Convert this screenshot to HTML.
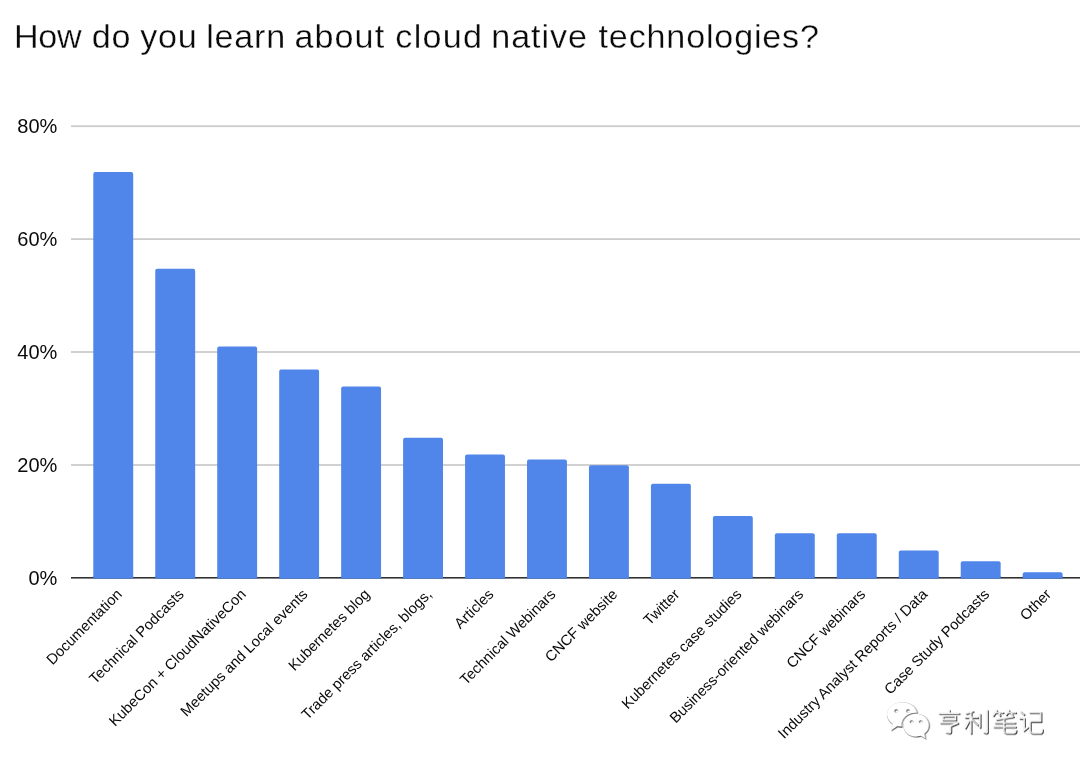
<!DOCTYPE html>
<html><head><meta charset="utf-8"><title>chart</title>
<style>
html,body{margin:0;padding:0;background:#fff;}
body{width:1080px;height:771px;overflow:hidden;font-family:"Liberation Sans",sans-serif;}
svg{display:block}
text{font-family:"Liberation Sans",sans-serif;fill:#0a0a0a}
</style></head><body>
<svg width="1080" height="771" viewBox="0 0 1080 771">
<rect width="1080" height="771" fill="#fff"/>
<g style="opacity:0.999">
<text class="tt" transform="translate(13.97 47.6) scale(1.05 1)" font-size="32.5" letter-spacing="-0.288" fill="#141414" stroke="#fff" stroke-width="0.3">How</text>
<text class="tt" transform="translate(91.73 47.6) scale(1.05 1)" font-size="32.5" letter-spacing="0.706" fill="#141414" stroke="#fff" stroke-width="0.3">do</text>
<text class="tt" transform="translate(140.30 47.6) scale(1.05 1)" font-size="32.5" letter-spacing="0.637" fill="#141414" stroke="#fff" stroke-width="0.3">you</text>
<text class="tt" transform="translate(206.25 47.6) scale(1.05 1)" font-size="32.5" letter-spacing="0.734" fill="#141414" stroke="#fff" stroke-width="0.3">learn</text>
<text class="tt" transform="translate(294.44 47.6) scale(1.05 1)" font-size="32.5" letter-spacing="1.023" fill="#141414" stroke="#fff" stroke-width="0.3">about</text>
<text class="tt" transform="translate(395.33 47.6) scale(1.05 1)" font-size="32.5" letter-spacing="1.191" fill="#141414" stroke="#fff" stroke-width="0.3">cloud</text>
<text class="tt" transform="translate(491.25 47.6) scale(1.05 1)" font-size="32.5" letter-spacing="0.899" fill="#141414" stroke="#fff" stroke-width="0.3">native</text>
<text class="tt" transform="translate(598.56 47.6) scale(1.05 1)" font-size="32.5" letter-spacing="0.784" fill="#141414" stroke="#fff" stroke-width="0.3">technologies?</text>
<rect x="71" y="125.3" width="1009" height="1.8" fill="#cccccc"/>
<rect x="71" y="238.2" width="1009" height="1.8" fill="#cccccc"/>
<rect x="71" y="351.1" width="1009" height="1.8" fill="#cccccc"/>
<rect x="71" y="464.1" width="1009" height="1.8" fill="#cccccc"/>
<text class="yl" x="57.4" y="133.4" font-size="20" text-anchor="end">80%</text>
<text class="yl" x="57.4" y="246.3" font-size="20" text-anchor="end">60%</text>
<text class="yl" x="57.4" y="359.2" font-size="20" text-anchor="end">40%</text>
<text class="yl" x="57.4" y="472.2" font-size="20" text-anchor="end">20%</text>
<text class="yl" x="57.4" y="585.2" font-size="20" text-anchor="end">0%</text>
<path d="M93.30 578.6 V174.00 Q93.30 172.00 95.30 172.00 H131.20 Q133.20 172.00 133.20 174.00 V578.6 Z" fill="#5085ea"/>
<path d="M155.26 578.6 V270.70 Q155.26 268.70 157.26 268.70 H193.16 Q195.16 268.70 195.16 270.70 V578.6 Z" fill="#5085ea"/>
<path d="M217.22 578.6 V348.40 Q217.22 346.40 219.22 346.40 H255.12 Q257.12 346.40 257.12 348.40 V578.6 Z" fill="#5085ea"/>
<path d="M279.18 578.6 V371.60 Q279.18 369.60 281.18 369.60 H317.08 Q319.08 369.60 319.08 371.60 V578.6 Z" fill="#5085ea"/>
<path d="M341.14 578.6 V388.40 Q341.14 386.40 343.14 386.40 H379.04 Q381.04 386.40 381.04 388.40 V578.6 Z" fill="#5085ea"/>
<path d="M403.10 578.6 V439.80 Q403.10 437.80 405.10 437.80 H441.00 Q443.00 437.80 443.00 439.80 V578.6 Z" fill="#5085ea"/>
<path d="M465.06 578.6 V456.50 Q465.06 454.50 467.06 454.50 H502.96 Q504.96 454.50 504.96 456.50 V578.6 Z" fill="#5085ea"/>
<path d="M527.02 578.6 V461.40 Q527.02 459.40 529.02 459.40 H564.92 Q566.92 459.40 566.92 461.40 V578.6 Z" fill="#5085ea"/>
<path d="M588.98 578.6 V467.30 Q588.98 465.30 590.98 465.30 H626.88 Q628.88 465.30 628.88 467.30 V578.6 Z" fill="#5085ea"/>
<path d="M650.94 578.6 V485.70 Q650.94 483.70 652.94 483.70 H688.84 Q690.84 483.70 690.84 485.70 V578.6 Z" fill="#5085ea"/>
<path d="M712.90 578.6 V518.10 Q712.90 516.10 714.90 516.10 H750.80 Q752.80 516.10 752.80 518.10 V578.6 Z" fill="#5085ea"/>
<path d="M774.86 578.6 V535.30 Q774.86 533.30 776.86 533.30 H812.76 Q814.76 533.30 814.76 535.30 V578.6 Z" fill="#5085ea"/>
<path d="M836.82 578.6 V535.30 Q836.82 533.30 838.82 533.30 H874.72 Q876.72 533.30 876.72 535.30 V578.6 Z" fill="#5085ea"/>
<path d="M898.78 578.6 V552.40 Q898.78 550.40 900.78 550.40 H936.68 Q938.68 550.40 938.68 552.40 V578.6 Z" fill="#5085ea"/>
<path d="M960.74 578.6 V563.30 Q960.74 561.30 962.74 561.30 H998.64 Q1000.64 561.30 1000.64 563.30 V578.6 Z" fill="#5085ea"/>
<path d="M1022.70 578.6 V574.20 Q1022.70 572.20 1024.70 572.20 H1060.60 Q1062.60 572.20 1062.60 574.20 V578.6 Z" fill="#5085ea"/>
<rect x="71" y="577" width="1009" height="1.6" fill="#333"/>
<rect x="93.30" y="576" width="39.9" height="2.6" fill="#5085ea"/>
<rect x="155.26" y="576" width="39.9" height="2.6" fill="#5085ea"/>
<rect x="217.22" y="576" width="39.9" height="2.6" fill="#5085ea"/>
<rect x="279.18" y="576" width="39.9" height="2.6" fill="#5085ea"/>
<rect x="341.14" y="576" width="39.9" height="2.6" fill="#5085ea"/>
<rect x="403.10" y="576" width="39.9" height="2.6" fill="#5085ea"/>
<rect x="465.06" y="576" width="39.9" height="2.6" fill="#5085ea"/>
<rect x="527.02" y="576" width="39.9" height="2.6" fill="#5085ea"/>
<rect x="588.98" y="576" width="39.9" height="2.6" fill="#5085ea"/>
<rect x="650.94" y="576" width="39.9" height="2.6" fill="#5085ea"/>
<rect x="712.90" y="576" width="39.9" height="2.6" fill="#5085ea"/>
<rect x="774.86" y="576" width="39.9" height="2.6" fill="#5085ea"/>
<rect x="836.82" y="576" width="39.9" height="2.6" fill="#5085ea"/>
<rect x="898.78" y="576" width="39.9" height="2.6" fill="#5085ea"/>
<rect x="960.74" y="576" width="39.9" height="2.6" fill="#5085ea"/>
<rect x="1022.70" y="576" width="39.9" height="2.6" fill="#5085ea"/>
<text class="xl" font-size="14.8" fill="#000" text-anchor="end" transform="translate(122.8 595.2) rotate(-45)">Documentation</text>
<text class="xl" font-size="14.8" fill="#000" text-anchor="end" transform="translate(184.7 595.2) rotate(-45)">Technical Podcasts</text>
<text class="xl" font-size="14.8" fill="#000" text-anchor="end" transform="translate(246.7 595.2) rotate(-45)">KubeCon + CloudNativeCon</text>
<text class="xl" font-size="14.8" fill="#000" text-anchor="end" transform="translate(308.6 595.2) rotate(-45)">Meetups and Local events</text>
<text class="xl" font-size="14.8" fill="#000" text-anchor="end" transform="translate(370.6 595.2) rotate(-45)">Kubernetes blog</text>
<text class="xl" font-size="14.8" fill="#000" text-anchor="end" transform="translate(432.6 595.2) rotate(-45)">Trade press articles, blogs,</text>
<text class="xl" font-size="14.8" fill="#000" text-anchor="end" transform="translate(494.5 595.2) rotate(-45)">Articles</text>
<text class="xl" font-size="14.8" fill="#000" text-anchor="end" transform="translate(556.5 595.2) rotate(-45)">Technical Webinars</text>
<text class="xl" font-size="14.8" fill="#000" text-anchor="end" transform="translate(618.4 595.2) rotate(-45)">CNCF website</text>
<text class="xl" font-size="14.8" fill="#000" text-anchor="end" transform="translate(680.4 595.2) rotate(-45)">Twitter</text>
<text class="xl" font-size="14.8" fill="#000" text-anchor="end" transform="translate(742.4 595.2) rotate(-45)">Kubernetes case studies</text>
<text class="xl" font-size="14.8" fill="#000" text-anchor="end" transform="translate(804.3 595.2) rotate(-45)">Business-oriented webinars</text>
<text class="xl" font-size="14.8" fill="#000" text-anchor="end" transform="translate(866.3 595.2) rotate(-45)">CNCF webinars</text>
<text class="xl" font-size="14.8" fill="#000" text-anchor="end" transform="translate(928.2 595.2) rotate(-45)">Industry Analyst Reports / Data</text>
<text class="xl" font-size="14.8" fill="#000" text-anchor="end" transform="translate(990.2 595.2) rotate(-45)">Case Study Podcasts</text>
<text class="xl" font-size="14.8" fill="#000" text-anchor="end" transform="translate(1052.1 595.2) rotate(-45)">Other</text>
<defs>
<filter id="wb" x="-10%" y="-10%" width="120%" height="130%"><feGaussianBlur stdDeviation="0.4"/></filter>
<filter id="wg" x="-10%" y="-10%" width="120%" height="130%"><feGaussianBlur stdDeviation="2.5"/></filter>
<g id="wmshape" fill="none" stroke-linecap="butt" stroke-linejoin="miter" transform="translate(0 160.5) scale(1 0.935) translate(0 -164)">
<!-- heng -->
<path d="M418 86 V104 M354 110 H480 M380 128 H456 V152 H380 Z M362 172 H472 L426 192 V228 Q426 238 414 236 L396 232"/>
<!-- li -->
<path d="M564 96 L516 112 M511 137 H592 M548 106 V242 M546 140 L512 208 M551 146 L592 188 M602 112 V204 M646 88 V228 Q646 238 636 236 L622 232"/>
<!-- bi -->
<path d="M704 88 L680 128 M697 106 H744 M716 108 L724 128 M778 88 L758 122 M770 106 H820 M790 108 L798 128 M806 132 L698 151 M690 172 H816 M682 197 H820 M746 138 V222 Q746 237 762 237 H806 Q818 237 818 214"/>
<!-- ji -->
<path transform="translate(-9 0)" d="M854 98 L878 120 M846 142 H877 V218 L904 194 M906 106 H976 V161 H912 M912 155 V222 Q912 237 928 237 H974 Q986 237 986 210"/>
</g>
<path id="bigb" d="M135 43 C84 43 42 75 42 116 C42 139 55 159 76 172 L68 214 L106 188 C116 190 126 191 135 191 C186 191 228 157 228 116 C228 75 186 43 135 43 Z"/>
<path id="smb" d="M218 112 C174 112 140 142 140 180 C140 218 174 250 218 250 C228 250 238 248 247 245 L278 264 L270 232 C288 220 298 201 298 180 C298 142 262 112 218 112 Z"/>
<mask id="wmm" maskUnits="userSpaceOnUse" x="0" y="0" width="340" height="300">
  <use href="#bigb" fill="#fff"/>
  <use href="#smb" fill="#000" stroke="#000" stroke-width="12"/>
  <use href="#smb" fill="#fff"/>
  <circle cx="100" cy="96" r="10" fill="#000"/><circle cx="171" cy="96" r="10" fill="#000"/>
  <circle cx="192" cy="160" r="9" fill="#000"/><circle cx="247" cy="160" r="9" fill="#000"/>
</mask>
</defs>
<g transform="translate(879.6 695) scale(0.166667)">
  <g filter="url(#wg)" opacity="0.10">
    <use href="#wmshape" stroke="#000" stroke-width="12"/>
    <rect x="0" y="0" width="340" height="300" fill="#000" mask="url(#wmm)"/>
  </g>
  <g filter="url(#wb)" opacity="1">
    <use href="#wmshape" stroke="#000" stroke-width="10" transform="translate(4.5 4.5)"/>
    <g transform="translate(3.6 3.6)"><rect x="0" y="0" width="340" height="300" fill="#222" mask="url(#wmm)"/></g>
  </g>
  <rect x="0" y="0" width="340" height="300" fill="#fff" mask="url(#wmm)"/>
  <use href="#wmshape" stroke="#fff" stroke-width="10"/>
</g>
</g></svg></body></html>
